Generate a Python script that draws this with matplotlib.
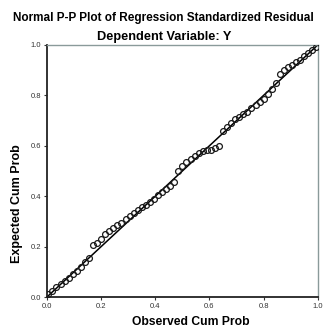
import matplotlib
matplotlib.use("Agg")
import matplotlib.pyplot as plt

plt.rcParams["font.family"] = ["Liberation Sans", "DejaVu Sans"]

# observed vs expected cumulative probability
observed = [0.005, 0.02, 0.035, 0.05, 0.065, 0.08, 0.095, 0.11, 0.125, 0.14,
            0.155, 0.17, 0.185, 0.2, 0.215, 0.23, 0.245, 0.26, 0.275, 0.29,
            0.305, 0.32, 0.335, 0.35, 0.365, 0.38, 0.395, 0.41, 0.425, 0.44,
            0.455, 0.47, 0.485, 0.5, 0.515, 0.53, 0.545, 0.56, 0.575, 0.59,
            0.605, 0.62, 0.635, 0.65, 0.665, 0.68, 0.695, 0.71, 0.725, 0.74,
            0.755, 0.77, 0.785, 0.8, 0.815, 0.83, 0.845, 0.86, 0.875, 0.89,
            0.905, 0.92, 0.935, 0.95, 0.965, 0.98, 0.995]
expected = [0.012, 0.025, 0.04, 0.052, 0.062, 0.075, 0.09, 0.105, 0.12, 0.138,
            0.155, 0.205, 0.215, 0.232, 0.25, 0.262, 0.272, 0.285, 0.295, 0.31,
            0.322, 0.335, 0.345, 0.355, 0.365, 0.375, 0.39, 0.405, 0.418, 0.428,
            0.44, 0.455, 0.5, 0.52, 0.535, 0.548, 0.56, 0.57, 0.578, 0.585,
            0.585, 0.59, 0.6, 0.66, 0.675, 0.69, 0.705, 0.715, 0.725, 0.735,
            0.748, 0.76, 0.772, 0.785, 0.805, 0.825, 0.85, 0.885, 0.9, 0.912,
            0.922, 0.932, 0.942, 0.955, 0.968, 0.98, 0.993]
ticks = [0.0, 0.2, 0.4, 0.6, 0.8, 1.0]
tick_labels = ["0.0", "0.2", "0.4", "0.6", "0.8", "1.0"]

fig = plt.figure(figsize=(3.24, 3.30), dpi=100)
ax = fig.add_axes([0.145, 0.10, 0.836, 0.764])

ax.plot([0, 1], [0, 1], color="black", lw=1.1, zorder=2)
ax.plot(observed, expected, "o", ms=4.2, mfc="none", mec="#1a1a1a", mew=0.9, zorder=3)

ax.set_xlim(0, 1)
ax.set_ylim(0, 1)
ax.set_xticks(ticks)
ax.set_xticklabels(tick_labels)
ax.set_yticks(ticks)
ax.set_yticklabels(tick_labels)
ax.tick_params(labelsize=5.5, length=2.5, width=0.8, pad=1.5, colors="#333333")

for side in ["left", "bottom"]:
    ax.spines[side].set_color("#222222")
    ax.spines[side].set_linewidth(1.3)
for side in ["top", "right"]:
    ax.spines[side].set_color("#8a9a9a")
    ax.spines[side].set_linewidth(1.0)

fig.text(0.505, 0.945, "Normal P-P Plot of Regression Standardized Residual",
         ha="center", va="center", fontsize=8.5, fontweight="bold")
fig.text(0.508, 0.888, "Dependent Variable: Y",
         ha="center", va="center", fontsize=9.2, fontweight="bold")
ax.set_xlabel("Observed Cum Prob", fontsize=8.7, fontweight="bold")
ax.xaxis.set_label_coords(0.53, -0.075)
ax.set_ylabel("Expected Cum Prob", fontsize=9, fontweight="bold")
ax.yaxis.set_label_coords(-0.089, 0.37)

fig.savefig("out.png", dpi=100, facecolor="white")
